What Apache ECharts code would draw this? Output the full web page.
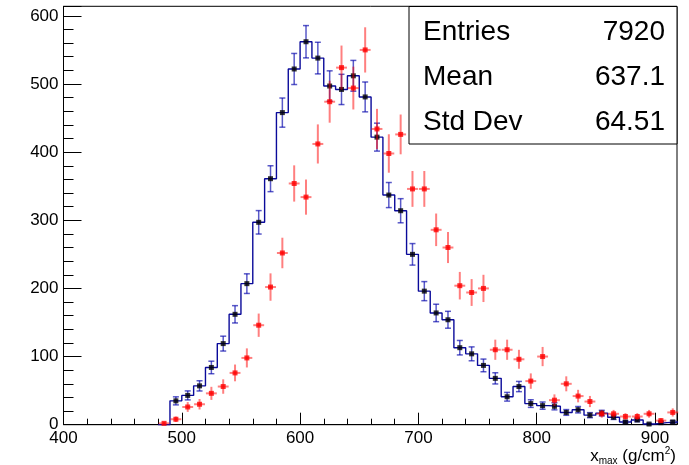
<!DOCTYPE html>
<html><head><meta charset="utf-8">
<script src="https://cdn.jsdelivr.net/npm/echarts@6/dist/echarts.min.js"></script>
<style>html,body{margin:0;padding:0;background:#fff}#c{width:689px;height:465px}</style>
</head><body><div id="c"></div>
<script>
// ---- data ----
const binWidth = 10;
const binCenters = [485,495,505,515,525,535,545,555,565,575,585,595,605,615,625,635,645,655,665,675,685,695,705,715,725,735,745,755,765,775,785,795,805,815,825,835,845,855,865,875,885,895,905,915];
const blackCounts = [0,35,43,57,84,119,162,207,297,361,458,522,562,538,497,492,512,481,422,337,314,250,196,164,154,113,104,87,68,41,56,31,28,27,18,22,14,17,11,4,7,1,3,4];
const blackErrors = [0,5.9,6.6,7.5,9.2,10.9,12.7,14.4,17.2,19,21.4,22.8,23.7,23.2,22.3,22.2,22.6,21.9,20.5,18.4,17.7,15.8,14,12.8,12.4,10.6,10.2,9.3,8.2,6.4,7.5,5.6,5.3,5.2,4.2,4.7,3.7,4.1,3.3,2,2.6,1,1.7,2];
const redCounts = [2,8,26,30,46,56,76,98,146,202,252,354,334,412,474,524,494,550,434,398,426,346,346,286,260,204,194,200,110,110,96,64,100,36,60,42,34,16,16,12,12,16,6,18];
const redErrors = [2,4,7.2,7.7,9.6,10.6,12.3,14,17.1,20.1,22.4,26.6,25.8,28.7,30.8,32.4,31.4,33.2,29.5,28.2,29.2,26.3,26.3,23.9,22.8,20.2,19.7,20,14.8,14.8,13.9,11.3,14.1,8.5,11,9.2,8.2,5.7,5.7,4.9,4.9,5.7,3.5,6];
const xTicks = [400,500,600,700,800,900];
const yTicks = [0,100,200,300,400,500,600];
const statsLabels = ['Entries','Mean','Std Dev'];
const statsValues = ['7920','637.1','64.51'];

// ---- build ----
const stepData = binCenters.map((c,i)=>[c-binWidth/2, blackCounts[i]]);
stepData.push([binCenters[binCenters.length-1]+binWidth/2, blackCounts[blackCounts.length-1]]);
const blackPts = binCenters.map((c,i)=>[c, blackCounts[i], blackErrors[i]]).filter(p=>p[1]>0);
const redPts = binCenters.map((c,i)=>[c, redCounts[i], redErrors[i]]).filter(p=>p[1]>0);

const FONT = '"Liberation Sans", Arial, sans-serif';
const chart = echarts.init(document.getElementById('c'), null, {renderer:'canvas'});

function blackErr(params, api){
  const x = api.value(0), y = api.value(1), e = api.value(2);
  const top = api.coord([x, y+e]), bot = api.coord([x, y-e]);
  const col = 'rgba(0,0,170,0.65)';
  const cap = 3;
  return {type:'group', children:[
    {type:'line', shape:{x1:top[0],y1:top[1],x2:bot[0],y2:bot[1]}, style:{stroke:col,lineWidth:1.5}},
    {type:'line', shape:{x1:top[0]-cap,y1:top[1],x2:top[0]+cap,y2:top[1]}, style:{stroke:col,lineWidth:1.5}},
    {type:'line', shape:{x1:bot[0]-cap,y1:bot[1],x2:bot[0]+cap,y2:bot[1]}, style:{stroke:col,lineWidth:1.5}}
  ]};
}
function redErr(params, api){
  const x = api.value(0), y = api.value(1), e = api.value(2);
  const top = api.coord([x, y+e]), bot = api.coord([x, Math.max(0,y-e)]);
  const l = api.coord([x-binWidth/2*0.92, y]), r = api.coord([x+binWidth/2*0.92, y]);
  const col = 'rgba(255,0,0,0.5)';
  return {type:'group', children:[
    {type:'line', shape:{x1:top[0],y1:top[1],x2:bot[0],y2:bot[1]}, style:{stroke:col,lineWidth:2}},
    {type:'line', shape:{x1:l[0],y1:l[1],x2:r[0],y2:r[1]}, style:{stroke:col,lineWidth:2}}
  ]};
}

const lbl = {fontFamily:FONT, fontSize:17, color:'#000'};
chart.setOption({
  animation:false,
  backgroundColor:'#fff',
  grid:{left:63.5, right:12, top:6.3, bottom:40.3, show:true, borderColor:'#000', borderWidth:1, backgroundColor:'transparent'},
  xAxis:{type:'value', min:400, max:918.6, interval:100,
    axisLine:{show:true,lineStyle:{color:'#000',width:1}},
    axisTick:{show:true,inside:true,length:12,lineStyle:{color:'#000'}},
    minorTick:{show:true,splitNumber:5,length:6,lineStyle:{color:'#000'}},
    splitLine:{show:false},
    axisLabel:Object.assign({margin:5, showMaxLabel:false, formatter:v=>xTicks.includes(v)?String(v):''}, lbl)},
  yAxis:{type:'value', min:0, max:614, interval:100,
    axisLine:{show:true,lineStyle:{color:'#000',width:1}},
    axisTick:{show:true,inside:true,length:18,lineStyle:{color:'#000'}},
    minorTick:{show:true,splitNumber:5,length:10,lineStyle:{color:'#000'}},
    splitLine:{show:false},
    axisLabel:Object.assign({margin:5, showMaxLabel:false, formatter:v=>yTicks.includes(v)?String(v):''}, lbl)},
  series:[
    {type:'line', data:stepData, step:'end', symbol:'none', lineStyle:{color:'#0a0a9a', width:1.4}, z:2, silent:true},
    {type:'custom', data:blackPts, renderItem:blackErr, z:3, silent:true},
    {type:'scatter', data:blackPts, symbol:'rect', symbolSize:5, itemStyle:{color:'#000'}, z:4, silent:true},
    {type:'custom', data:redPts, renderItem:redErr, z:5, silent:true},
    {type:'scatter', data:redPts, symbol:'rect', symbolSize:5, itemStyle:{color:'#ff0000'}, z:6, silent:true}
  ],
  graphic:[
    {type:'rect', shape:{x:409, y:6.5, width:268, height:137.5}, style:{fill:'#fff', stroke:'#000', lineWidth:1}, z:100},
    ...statsLabels.map((t,i)=>({type:'text', x:423, y:32+i*45, z:101, style:{text:t, font:'28px '+FONT, fill:'#000', align:'left', verticalAlign:'middle'}})),
    ...statsValues.map((t,i)=>({type:'text', x:665, y:32+i*45, z:101, style:{text:t, font:'28px '+FONT, fill:'#000', align:'right', verticalAlign:'middle'}})),
    {type:'text', x:676, y:456, z:101, style:{
      text:'{a|x}{sub|max}{a| (g/cm}{sup|2}{a|)}', align:'right', verticalAlign:'middle', fill:'#000',
      rich:{
        a:{fontFamily:FONT, fontSize:17, lineHeight:20, verticalAlign:'middle'},
        sub:{fontFamily:FONT, fontSize:10, lineHeight:20, verticalAlign:'bottom', padding:[6,0,0,0]},
        sup:{fontFamily:FONT, fontSize:10, lineHeight:20, verticalAlign:'top', padding:[0,0,8,0]}
      }}}
  ]
});
</script></body></html>
